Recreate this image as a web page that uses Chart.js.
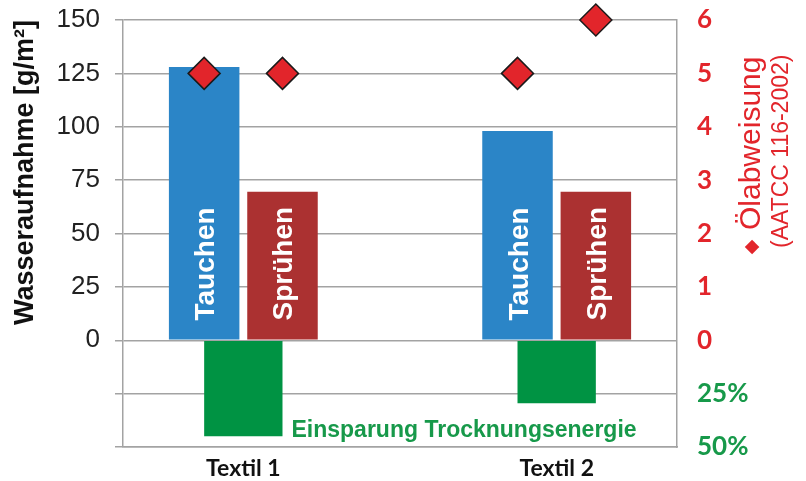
<!DOCTYPE html>
<html>
<head>
<meta charset="utf-8">
<script src="https://cdn.jsdelivr.net/npm/chart.js@4.4.1/dist/chart.umd.min.js"></script>
<style>
  html, body { margin: 0; padding: 0; background: #ffffff; }
  #wrap { width: 806px; height: 481px; }
</style>
</head>
<body>
<div id="wrap"><canvas id="c" width="806" height="481"></canvas></div>
<script>
// ---- data ----
const categories = ['Textil 1', 'Textil 2'];
const tauchen = [128, 98];          // Wasseraufnahme [g/m²], Tauchen
const spruehen = [69.5, 69.5];      // Wasseraufnahme [g/m²], Sprühen
const oelTauchen = [5, 5];          // Ölabweisung (AATCC 116-2002), Tauchen
const oelSpruehen = [5, 6];         // Ölabweisung (AATCC 116-2002), Sprühen
const einsparung = [45, 29.5];      // Einsparung Trocknungsenergie [%]
const savingsLabel = 'Einsparung Trocknungsenergie';
const leftTitle = 'Wasseraufnahme [g/m²]';
const rightTitle1 = 'Ölabweisung';
const rightTitle2 = '(AATCC 116-2002)';

const RED = '#e2252b';
const GREEN = '#17994a';
const GRID = '#a3a3a3';

const catIndex = categories.map((c, i) => i + 1);

// points of the oil repellency series are centred on the bar of the same method
const alignPoints = {
  id: 'alignPoints',
  afterDatasetsUpdate(chart) {
    chart.data.datasets.forEach((ds, di) => {
      if (ds.alignTo === undefined) return;
      const bars = chart.getDatasetMeta(ds.alignTo).data;
      chart.getDatasetMeta(di).data.forEach((pt, i) => {
        if (bars[i]) pt.x = bars[i].x;
      });
    });
  }
};

const annotations = {
  id: 'annotations',
  afterDatasetsDraw(chart) {
    const ctx = chart.ctx;
    // rotated method names inside bars
    [0, 1].forEach(di => {
      const meta = chart.getDatasetMeta(di);
      const label = chart.data.datasets[di].label;
      meta.data.forEach(bar => {
        ctx.save();
        ctx.translate(bar.x, bar.base - 19);
        ctx.rotate(-Math.PI / 2);
        ctx.fillStyle = '#ffffff';
        ctx.font = 'bold 28px "Liberation Sans", Arial, sans-serif';
        ctx.textAlign = 'left';
        ctx.textBaseline = 'alphabetic';
        ctx.fillText(label, 0, 10);
        ctx.restore();
      });
    });
    // savings label next to first green bar
    const g = chart.getDatasetMeta(2).data[0];
    ctx.save();
    ctx.fillStyle = GREEN;
    ctx.font = 'bold 23px "Liberation Sans", Arial, sans-serif';
    ctx.textAlign = 'left';
    ctx.textBaseline = 'middle';
    ctx.fillText(savingsLabel, g.x + g.width / 2 + 9, chart.chartArea.bottom - 16);
    ctx.restore();
  },
  afterDraw(chart) {
    const ctx = chart.ctx;
    const y0 = 248;
    ctx.save();
    ctx.fillStyle = RED;
    ctx.translate(752, y0);
    ctx.rotate(-Math.PI / 2);
    ctx.textBaseline = 'middle';
    ctx.textAlign = 'center';
    ctx.font = '19px "DejaVu Sans", sans-serif';
    ctx.fillText('◆', 1, 0);
    ctx.textAlign = 'left';
    ctx.font = '30px "Liberation Sans", Arial, sans-serif';
    ctx.fillText(rightTitle1, 18, 0);
    ctx.restore();
    ctx.save();
    ctx.fillStyle = RED;
    ctx.translate(782, y0);
    ctx.rotate(-Math.PI / 2);
    ctx.textBaseline = 'middle';
    ctx.textAlign = 'left';
    ctx.font = '23px "Liberation Sans", Arial, sans-serif';
    ctx.fillText(rightTitle2, 0, 0);
    ctx.restore();
  }
};

new Chart(document.getElementById('c'), {
  data: {
    datasets: [
      {
        type: 'bar', label: 'Tauchen', yAxisID: 'y',
        data: categories.map((c, i) => ({ x: catIndex[i], y: tauchen[i] })),
        backgroundColor: '#2b85c7', categoryPercentage: 0.5, barPercentage: 0.9, order: 2
      },
      {
        type: 'bar', label: 'Sprühen', yAxisID: 'y',
        data: categories.map((c, i) => ({ x: catIndex[i], y: spruehen[i] })),
        backgroundColor: '#ab3131', categoryPercentage: 0.5, barPercentage: 0.9, order: 2
      },
      {
        type: 'bar', label: savingsLabel, yAxisID: 'y', grouped: false,
        data: categories.map((c, i) => ({ x: catIndex[i], y: -einsparung[i] })),
        backgroundColor: '#009343', categoryPercentage: 0.5, barPercentage: 0.5, order: 2
      },
      {
        type: 'line', label: 'Ölabweisung Tauchen', yAxisID: 'y1', alignTo: 0,
        data: categories.map((c, i) => ({ x: catIndex[i], y: oelTauchen[i] })),
        showLine: false, pointStyle: 'rectRot', pointRadius: 16,
        pointBackgroundColor: RED, pointBorderColor: '#1a1a1a', pointBorderWidth: 1.5,
        clip: false, order: 1
      },
      {
        type: 'line', label: 'Ölabweisung Sprühen', yAxisID: 'y1', alignTo: 1,
        data: categories.map((c, i) => ({ x: catIndex[i], y: oelSpruehen[i] })),
        showLine: false, pointStyle: 'rectRot', pointRadius: 16,
        pointBackgroundColor: RED, pointBorderColor: '#1a1a1a', pointBorderWidth: 1.5,
        clip: false, order: 1
      }
    ]
  },
  options: {
    responsive: false,
    animation: false,
    layout: { padding: { top: 20, left: 0, right: 0, bottom: 0 } },
    plugins: { legend: { display: false }, tooltip: { enabled: false } },
    scales: {
      x: {
        type: 'linear', min: 0.616, max: 2.384, offset: false,
        afterBuildTicks: s => { s.ticks = catIndex.map(v => ({ value: v })); },
        afterFit: s => { s.height = 34; s.paddingLeft = 0; s.paddingRight = 0; },
        grid: { display: false, drawTicks: false },
        border: { display: true, color: GRID, width: 1.5 },
        ticks: {
          callback: v => categories[v - 1],
          font: { family: 'Lato', weight: 'bold', size: 23 },
          color: '#111', padding: 8, maxRotation: 0, autoSkip: false
        }
      },
      y: {
        position: 'left', min: -50, max: 150,
        afterFit: s => { s.width = 123; s.paddingTop = 0; s.paddingBottom = 0; },
        grid: { color: GRID, lineWidth: 1.5, drawTicks: true, tickLength: 8, tickColor: GRID },
        border: { display: true, color: GRID, width: 1.5 },
        ticks: {
          stepSize: 25,
          callback: v => (v >= 0 ? String(v) : ''),
          font: { family: '"Liberation Sans", Arial, sans-serif', size: 26 },
          color: '#222', padding: 15
        },
        title: {
          display: true, text: leftTitle, align: 'end',
          font: { family: '"Liberation Sans", Arial, sans-serif', weight: 'bold', size: 27 },
          color: '#111', padding: { top: 9, bottom: 0 }
        }
      },
      y1: {
        position: 'right', min: -2, max: 6,
        afterFit: s => { s.width = 129; s.paddingTop = 0; s.paddingBottom = 0; },
        grid: { display: false, drawTicks: false },
        border: { display: true, color: GRID, width: 1.5 },
        ticks: {
          stepSize: 1,
          callback: v => (v >= 0 ? String(v) : (-v * 25) + '%'),
          color: c => (c.tick && c.tick.value < 0 ? GREEN : RED),
          font: { family: 'Lato', weight: 'bold', size: 26 },
          padding: 20
        }
      }
    }
  },
  plugins: [alignPoints, annotations]
});
</script>
</body>
</html>
